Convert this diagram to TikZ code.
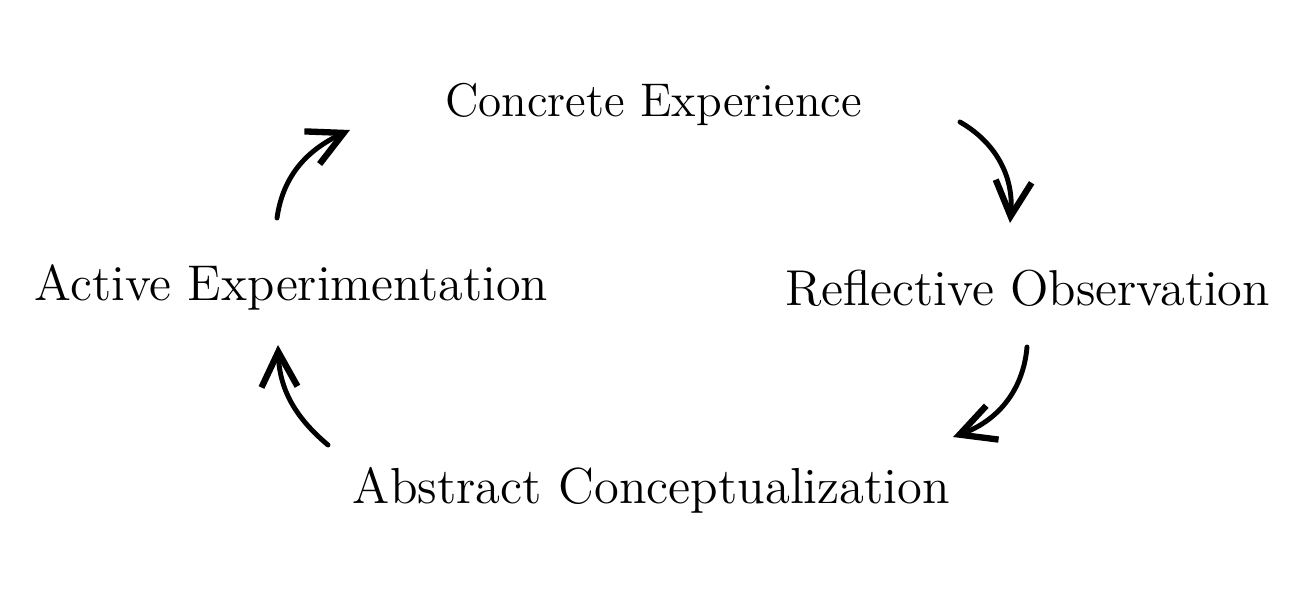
\documentclass[tikz,border=0pt]{standalone}
\usetikzlibrary{arrows.meta}
\begin{document}
\begin{tikzpicture}[
  lbl/.style={font=\fontsize{14}{16}\selectfont, inner sep=0pt, anchor=center},
  cyc/.style={line width=1.4pt, line cap=round,
    -{Straight Barb[length=3.5mm,width=3.6mm,line width=1.8pt]}}
]
\useasboundingbox[fill=white] (0,0) rectangle (12.94,-5.95);
\node[lbl] (ce) at (6.535,-1.04) {\resizebox{4.17cm}{!}{Concrete Experience}};
\node[lbl] (ro) at (10.275,-2.88) {\resizebox{4.85cm}{!}{Reflective Observation}};
\node[lbl] (ac) at (6.515,-4.90) {\resizebox{5.97cm}{!}{Abstract Conceptualization}};
\node[lbl] (ae) at (2.915,-2.87) {\resizebox{5.13cm}{!}{Active Experimentation}};
\coordinate (a1s) at (2.77,-2.18); \coordinate (a1e) at (3.50,-1.30);
\coordinate (a2s) at (9.60,-1.22); \coordinate (a2e) at (10.10,-2.23);
\coordinate (a3s) at (10.27,-3.47); \coordinate (a3e) at (9.53,-4.37);
\coordinate (a4s) at (3.28,-4.45); \coordinate (a4e) at (2.78,-3.45);
\draw[cyc] (a1s) to[out=82,in=205] (a1e);
\draw[cyc] (a2s) to[out=-30,in=85] (a2e);
\draw[cyc] (a3s) to[out=-95,in=20] (a3e);
\draw[cyc] (a4s) to[out=140,in=-88] (a4e);
\end{tikzpicture}
\end{document}
